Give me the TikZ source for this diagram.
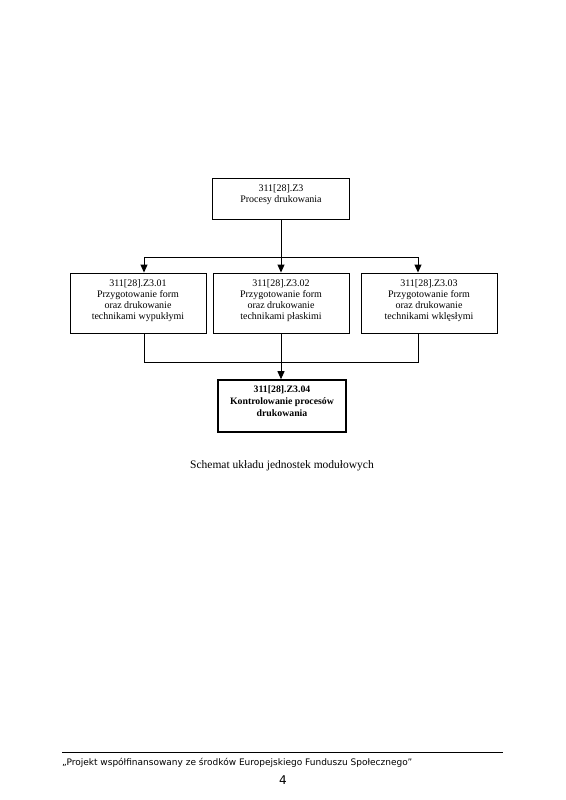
\documentclass[tikz,border=0pt]{standalone}
\usepackage{fontspec}
\setmainfont{Liberation Serif}
\newfontfamily\footfont{DejaVu Sans}
\usetikzlibrary{arrows.meta}
\begin{document}
\begin{tikzpicture}[x=1pt,y=-1pt,
  box/.style={draw, line width=0.9pt, minimum width=136pt, minimum height=60pt, inner sep=0pt},
  txt/.style={align=center, font=\fontsize{10}{11}\selectfont, inner sep=0pt, anchor=north},
  btxt/.style={align=center, font=\fontsize{9.8}{12}\selectfont\bfseries, inner sep=0pt, anchor=north},
  conn/.style={line width=0.9pt},
  arr/.style={line width=0.9pt, -{Triangle[length=8pt,width=7pt]}}]
\useasboundingbox (0,0) rectangle (565,800);
% boxes
\node[box, minimum width=137pt, minimum height=41pt] (top) at (281,198.5) {};
\node[txt] (topT) at ([yshift=-6.5pt]top.north) {311[28].Z3\\Procesy drukowania};
\node[box] (l) at (138,303) {};
\node[txt] (lT) at ([yshift=-7pt]l.north) {311[28].Z3.01\\Przygotowanie form\\oraz drukowanie\\technikami wypukłymi};
\node[box] (m) at (281,303) {};
\node[txt] (mT) at ([yshift=-7pt]m.north) {311[28].Z3.02\\Przygotowanie form\\oraz drukowanie\\technikami płaskimi};
\node[box] (r) at (429,303) {};
\node[txt] (rT) at ([yshift=-7pt]r.north) {311[28].Z3.03\\Przygotowanie form\\oraz drukowanie\\technikami wklęsłymi};
\node[box, line width=1.6pt, minimum width=128pt, minimum height=52pt] (b) at (282,406) {};
\node[btxt] (bT) at ([yshift=-6pt]b.north) {311[28].Z3.04\\Kontrolowanie procesów\\drukowania};
% connectors
\coordinate (bl) at (144,257);
\coordinate (br) at (418,257);
\coordinate (rl) at (144,362);
\coordinate (rr) at (418,362);
\draw[arr] (top.south) -- (m.north);
\draw[conn] (bl) -- (br);
\draw[arr] (bl) -- (bl |- l.north);
\draw[arr] (br) -- (br |- r.north);
\draw[conn] (bl |- l.south) -- (rl) -- (rr) -- (br |- r.south);
\draw[arr] (m.south) -- (m.south |- b.north);
% caption
\node[font=\fontsize{11.5}{13}\selectfont, inner sep=0pt] (cap) at (282,466) {Schemat układu jednostek modułowych};
% footer
\coordinate (fl) at (62,752);
\coordinate (fr) at (503,752);
\draw[line width=0.8pt] (fl) -- (fr);
\node[font=\footfont\fontsize{9}{10}\selectfont, inner sep=0pt, anchor=west] (foot) at (62,763) {„Projekt współfinansowany ze środków Europejskiego Funduszu Społecznego”};
\node[font=\footfont\fontsize{12}{13}\selectfont, inner sep=0pt] (pg) at (283,780) {4};
\end{tikzpicture}
\end{document}
